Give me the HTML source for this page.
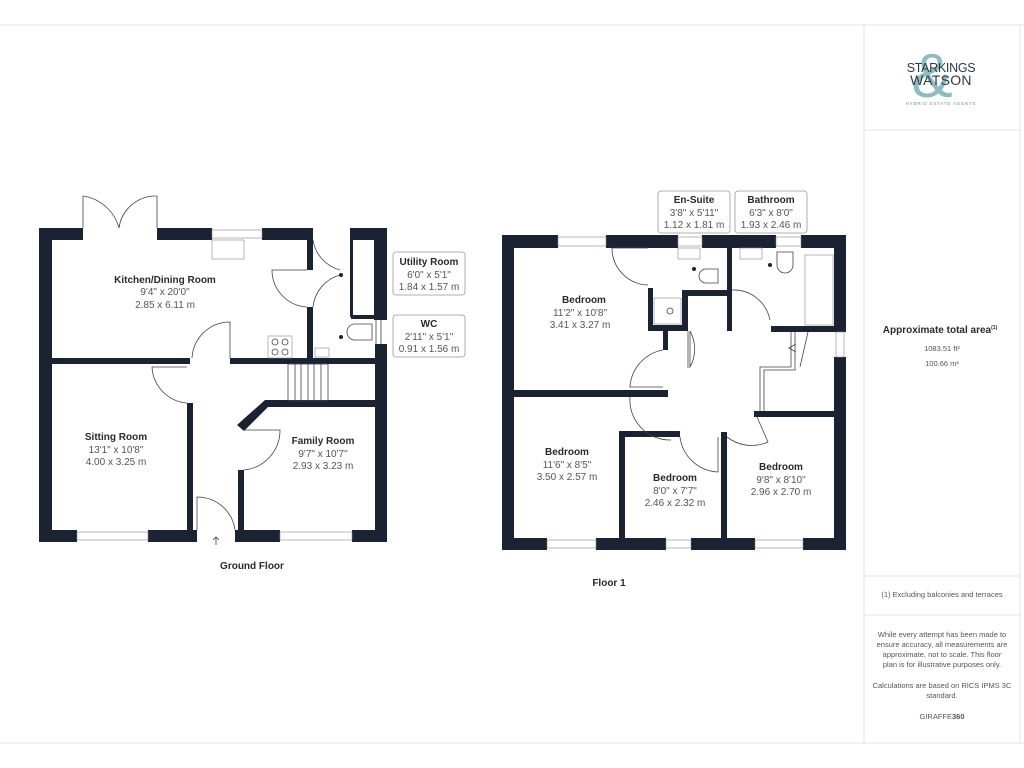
<!DOCTYPE html>
<html><head><meta charset="utf-8"><style>
html,body{margin:0;padding:0;background:#fff;}
svg{display:block;font-family:"Liberation Sans","DejaVu Sans",sans-serif;}
.w{fill:#1b2232}
.t{fill:#2a2a2a;font-weight:bold;font-size:10px;text-anchor:middle}
.d{fill:#555;font-size:10px;text-anchor:middle}
.s{fill:#555;font-size:7.5px;text-anchor:middle}
.ln{stroke:#444;stroke-width:0.8;fill:none}
.win{fill:#fff;stroke:#888;stroke-width:0.6}
</style></head><body>
<svg width="1024" height="768" viewBox="0 0 1024 768">
<line x1="0" y1="25" x2="1024" y2="25" stroke="#e3e3e3"/>
<line x1="0" y1="743" x2="1024" y2="743" stroke="#e3e3e3"/>
<line x1="864" y1="25" x2="864" y2="743" stroke="#e3e3e3"/>
<line x1="1020" y1="25" x2="1020" y2="743" stroke="#e3e3e3"/>
<line x1="864" y1="130" x2="1020" y2="130" stroke="#e3e3e3"/>
<line x1="864" y1="576" x2="1020" y2="576" stroke="#e3e3e3"/>
<line x1="864" y1="615" x2="1020" y2="615" stroke="#e3e3e3"/>

<text x="932" y="97" font-size="62" fill="#8fbcc0" text-anchor="middle" font-family="Liberation Sans,sans-serif">&amp;</text>
<text x="941" y="72" font-size="12.5" fill="#2e3a44" text-anchor="middle" letter-spacing="-0.3">STARKINGS</text>
<text x="941" y="85" font-size="14" fill="#2e3a44" text-anchor="middle" letter-spacing="0.3">WATSON</text>
<text x="941" y="105" font-size="4.5" fill="#888" text-anchor="middle" letter-spacing="0.8">HYBRID ESTATE AGENTS</text>

<text x="940" y="333" class="t" font-size="9">Approximate total area<tspan font-size="5" dy="-4">(1)</tspan></text>
<text x="942" y="351" class="s">1083.51 ft²</text>
<text x="942" y="366" class="s">100.66 m²</text>
<text x="942" y="597" class="s" font-size="6.5">(1) Excluding balconies and terraces</text>
<text x="942" y="637" class="s" font-size="6.5">While every attempt has been made to</text>
<text x="942" y="647" class="s" font-size="6.5">ensure accuracy, all measurements are</text>
<text x="942" y="657" class="s" font-size="6.5">approximate, not to scale. This floor</text>
<text x="942" y="667" class="s" font-size="6.5">plan is for illustrative purposes only.</text>
<text x="942" y="688" class="s" font-size="6.5">Calculations are based on RICS IPMS 3C</text>
<text x="942" y="698" class="s" font-size="6.5">standard.</text>
<text x="942" y="719" class="s" font-size="7.5" fill="#333">GIRAFFE<tspan font-weight="bold">360</tspan></text>

<g class="w">
<rect x="39" y="228" width="13" height="314"/>
<rect x="39" y="530" width="38" height="12"/>
<rect x="148" y="530" width="49" height="12"/>
<rect x="235" y="530" width="45" height="12"/>
<rect x="352" y="530" width="35" height="12"/>
<rect x="39" y="228" width="44" height="12"/>
<rect x="157" y="228" width="55" height="12"/>
<rect x="262" y="228" width="51" height="12"/>
<rect x="307" y="228" width="6" height="42"/>
<rect x="307" y="307" width="6" height="57"/>
<rect x="350" y="228" width="37" height="12"/>
<rect x="374" y="228" width="13" height="92"/>
<rect x="351" y="315" width="24" height="4"/>
<rect x="375" y="344" width="12" height="198"/>
<rect x="39" y="358" width="151" height="6"/>
<rect x="230" y="358" width="157" height="6"/>
<rect x="187" y="403" width="6" height="127"/>
<rect x="238" y="470" width="6" height="62"/>
<polygon points="265,400 375,400 375,407 268,407 244,431 237,425"/>
</g>
<rect x="350" y="240" width="3" height="77" fill="#1b2232"/>
<rect x="212" y="230" width="50" height="8" class="win"/>
<rect x="77" y="532" width="71" height="8" class="win"/>
<rect x="280" y="532" width="72" height="8" class="win"/>
<rect x="212" y="240" width="32" height="19" class="win"/>
<rect x="268" y="336" width="24" height="22" class="win"/>
<circle cx="275" cy="342" r="3" class="ln"/><circle cx="285" cy="342" r="3" class="ln"/>
<circle cx="275" cy="352" r="3" class="ln"/><circle cx="285" cy="352" r="3" class="ln"/>
<rect x="315" y="348" width="14" height="9" class="win"/>
<path class="ln" d="M83 228 V196 A44 44 0 0 1 119 228 M157 228 V196 A37 37 0 0 0 119 228"/>
<path class="ln" d="M307 270 H272 A37 37 0 0 0 307 307"/>
<path class="ln" d="M313 240 A37 37 0 0 0 340 270 M313 307 A37 37 0 0 1 340 275"/>
<path class="ln" d="M230 358 V322 A38 38 0 0 0 192 358"/>
<path class="ln" d="M187 403 A38 38 0 0 1 152 367 H187"/>
<path class="ln" d="M197 530 V497 A38 38 0 0 1 235 530"/>
<path class="ln" d="M244 430 H280 A40 40 0 0 1 244 470"/>
<path class="ln" d="M216 545 V537 M213 540 L216 537 L219 540"/>
<g class="ln"><rect x="288" y="364" width="40" height="37"/>
<line x1="295" y1="364" x2="295" y2="401"/><line x1="301" y1="364" x2="301" y2="401"/><line x1="308" y1="364" x2="308" y2="401"/><line x1="314" y1="364" x2="314" y2="401"/><line x1="321" y1="364" x2="321" y2="401"/></g>
<path class="ln" d="M372 324 H355 A8 8 0 0 0 355 340 H372 Z"/>
<path class="ln" d="M376 320 V344 M381 320 V344"/>
<circle cx="341" cy="275" r="2" fill="#222"/><circle cx="341" cy="337" r="2" fill="#222"/>

<text x="165" y="283" class="t">Kitchen/Dining Room</text>
<text x="165" y="295" class="d">9'4" x 20'0"</text>
<text x="165" y="308" class="d">2.85 x 6.11 m</text>
<text x="116" y="440" class="t">Sitting Room</text>
<text x="116" y="453" class="d">13'1" x 10'8"</text>
<text x="116" y="465" class="d">4.00 x 3.25 m</text>
<text x="323" y="444" class="t">Family Room</text>
<text x="323" y="457" class="d">9'7" x 10'7"</text>
<text x="323" y="469" class="d">2.93 x 3.23 m</text>
<rect x="393" y="252" width="72" height="43" rx="3" fill="#fff" stroke="#999" stroke-width="0.8"/>
<text x="429" y="265" class="t">Utility Room</text>
<text x="429" y="278" class="d">6'0" x 5'1"</text>
<text x="429" y="290" class="d">1.84 x 1.57 m</text>
<rect x="393" y="315" width="72" height="42" rx="3" fill="#fff" stroke="#999" stroke-width="0.8"/>
<text x="429" y="327" class="t">WC</text>
<text x="429" y="340" class="d">2'11" x 5'1"</text>
<text x="429" y="352" class="d">0.91 x 1.56 m</text>
<text x="252" y="569" class="t" font-size="8.5">Ground Floor</text>

<g class="w">
<rect x="502" y="235" width="12" height="315"/>
<rect x="834" y="235" width="12" height="97"/>
<rect x="834" y="357" width="12" height="193"/>
<rect x="502" y="235" width="56" height="13"/>
<rect x="606" y="235" width="72" height="13"/>
<rect x="702" y="235" width="74" height="13"/>
<rect x="801" y="235" width="45" height="13"/>
<rect x="502" y="538" width="45" height="12"/>
<rect x="596" y="538" width="70" height="12"/>
<rect x="691" y="538" width="64" height="12"/>
<rect x="803" y="538" width="43" height="12"/>
<rect x="727" y="248" width="5" height="83"/>
<rect x="648" y="288" width="5" height="43"/>
<rect x="648" y="325" width="40" height="6"/>
<rect x="682" y="290" width="6" height="41"/>
<rect x="682" y="290" width="45" height="6"/>
<rect x="663" y="331" width="5" height="19"/>
<rect x="502" y="390" width="166" height="7"/>
<rect x="771" y="326" width="75" height="6"/>
<rect x="754" y="411" width="92" height="6"/>
<rect x="619" y="431" width="61" height="6"/>
<rect x="619" y="431" width="6" height="107"/>
<rect x="721" y="432" width="6" height="106"/>
</g>
<rect x="558" y="237" width="48" height="9" class="win"/>
<rect x="678" y="237" width="24" height="9" class="win"/>
<rect x="776" y="237" width="25" height="9" class="win"/>
<rect x="836" y="332" width="8" height="25" class="win"/>
<rect x="547" y="540" width="49" height="8" class="win"/>
<rect x="666" y="540" width="25" height="8" class="win"/>
<rect x="755" y="540" width="48" height="8" class="win"/>
<rect x="678" y="248" width="22" height="11" class="win"/>
<path class="ln" d="M718 269 H706 A7 7 0 0 0 706 283 H718 Z"/>
<rect x="654" y="298" width="27" height="26" class="win"/>
<circle cx="670" cy="311" r="3" class="ln"/>
<rect x="740" y="248" width="22" height="11" class="win"/>
<path class="ln" d="M777 252 H793 V265 A8 8 0 0 1 777 265 Z"/>
<rect x="805" y="255" width="28" height="70" class="win"/>
<circle cx="694" cy="269" r="2" fill="#222"/><circle cx="770" cy="265" r="2" fill="#222"/>
<path class="ln" d="M791 332 V367 H760 V411 M795 332 V370 H764 V411"/>
<path class="ln" d="M808 332 L800 367 M796 352 L789 348 L796 344"/>
<path class="ln" d="M648 248 H612 A37 37 0 0 0 648 285"/>
<path class="ln" d="M690 331 V367 A37 37 0 0 0 690 331 M688 331 V368"/>
<path class="ln" d="M732 290 A37 37 0 0 1 770 320"/>
<path class="ln" d="M663 350 A40 40 0 0 0 630 387 H663"/>
<path class="ln" d="M630 397 A40 40 0 0 0 671 440"/>
<path class="ln" d="M680 437 A40 40 0 0 0 718 472 V437"/>
<path class="ln" d="M727 437 A40 40 0 0 0 768 442 L757 417"/>
<text x="584" y="303" class="t">Bedroom</text>
<text x="580" y="316" class="d">11'2" x 10'8"</text>
<text x="580" y="328" class="d">3.41 x 3.27 m</text>
<text x="567" y="455" class="t">Bedroom</text>
<text x="567" y="468" class="d">11'6" x 8'5"</text>
<text x="567" y="480" class="d">3.50 x 2.57 m</text>
<text x="675" y="481" class="t">Bedroom</text>
<text x="675" y="494" class="d">8'0" x 7'7"</text>
<text x="675" y="506" class="d">2.46 x 2.32 m</text>
<text x="781" y="470" class="t">Bedroom</text>
<text x="781" y="483" class="d">9'8" x 8'10"</text>
<text x="781" y="495" class="d">2.96 x 2.70 m</text>
<rect x="658" y="191" width="72" height="42" rx="3" fill="#fff" stroke="#999" stroke-width="0.8"/>
<text x="694" y="203" class="t">En-Suite</text>
<text x="694" y="216" class="d">3'8" x 5'11"</text>
<text x="694" y="228" class="d">1.12 x 1.81 m</text>
<rect x="735" y="191" width="72" height="42" rx="3" fill="#fff" stroke="#999" stroke-width="0.8"/>
<text x="771" y="203" class="t">Bathroom</text>
<text x="771" y="216" class="d">6'3" x 8'0"</text>
<text x="771" y="228" class="d">1.93 x 2.46 m</text>
<text x="609" y="586" class="t" font-size="8.5">Floor 1</text>
</svg>
</body></html>
